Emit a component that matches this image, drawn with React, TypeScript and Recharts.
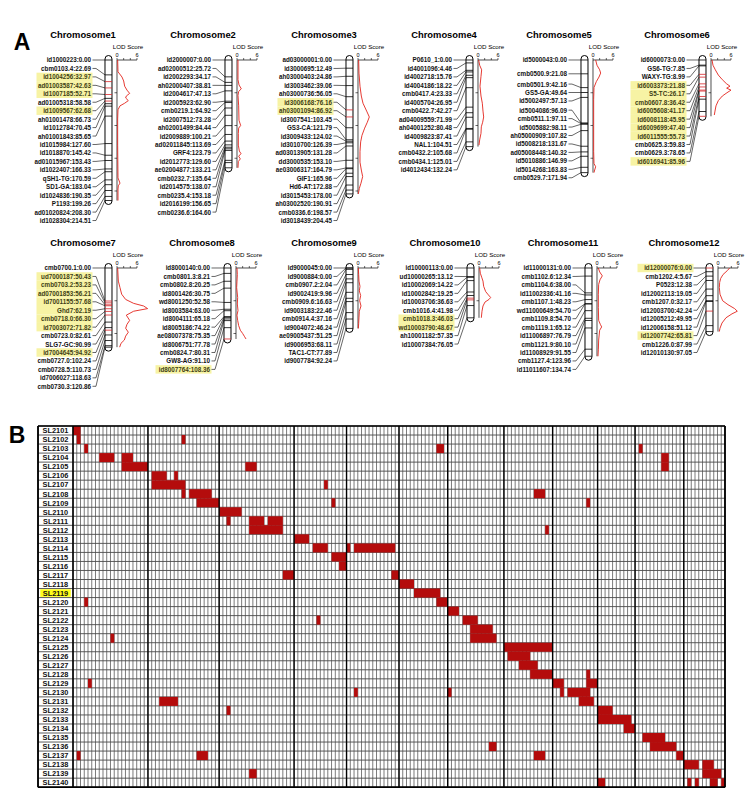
import React from 'react';
import {
  ScatterChart,
  Scatter,
  XAxis,
  YAxis,
  ReferenceLine,
  ReferenceArea,
  CartesianGrid,
} from 'recharts';

const FONT = '"Liberation Sans", Arial, Helvetica, sans-serif';
const MAP_RED = '#d8262a';
const LOD_RED = '#e3241c';
const CELL_RED = '#b40c0c';
const MARK_YELLOW = '#f7f3a4';
const LINE_YELLOW = '#ffff1a';

// ---------- Linkage maps: "marker:position(cM)" ----------
const chr1Markers = ['id1000223:0.00', 'cbm0103.4:22.69', 'id1004256:32.97', 'ad01003587:42.63', 'id1007185:52.71', 'ad01005318:58.58', 'id1009567:62.68', 'ah01001478:66.73', 'id1012784:70.45', 'ah01001843:85.65', 'id1015984:127.60', 'id1018870:145.42', 'ad01015967:153.43', 'id1022407:166.33', 'qSH1-TG:170.59', 'SD1-GA:183.04', 'id1024836:190.35', 'P1193:199.26', 'ad01020824:208.30', 'id1028304:214.51'];
const chr2Markers = ['id2000007:0.00', 'ad02000512:25.72', 'id2002293:34.17', 'ah02000407:38.81', 'id2004617:47.13', 'id2005923:62.90', 'cmb0219.1:64.92', 'id2007512:73.28', 'ah02001499:84.44', 'id2009889:100.21', 'ad02011845:113.69', 'GRF4:123.79', 'id2012773:129.60', 'ae02004877:133.21', 'cmb0232.7:135.64', 'id2014575:138.07', 'cmb0235.4:153.18', 'id2016199:156.65', 'cmb0236.6:164.60'];
const chr3Markers = ['ad03000001:0.00', 'id3000695:12.49', 'ah03000403:24.86', 'id3003462:39.06', 'ah03000736:56.05', 'id3006168:76.16', 'ah03001094:86.92', 'id3007541:103.45', 'GS3-CA:121.79', 'id3009433:124.02', 'id3010700:126.39', 'ad03013905:131.28', 'dd3000535:153.10', 'ae03006317:164.79', 'GIF1:165.96', 'Hd6-AT:172.88', 'id3015453:178.00', 'ah03002520:190.91', 'cmb0336.6:198.57', 'id3018439:204.45'];
const chr4Markers = ['P0610_1:0.00', 'id4001096:4.46', 'id4002718:15.76', 'id4004186:18.22', 'cmb0417.4:23.33', 'id4005704:26.95', 'cmb0422.7:42.27', 'ad04009559:71.99', 'ah04001252:80.48', 'id4009823:87.41', 'NAL1:104.51', 'cmb0432.2:105.68', 'cmb0434.1:125.01', 'id4012434:132.24'];
const chr5Markers = ['id5000043:0.00', 'cmb0500.9:21.08', 'cmb0501.9:42.16', 'GS5-GA:49.64', 'id5002497:57.13', 'id5004086:96.09', 'cmb0511.1:97.11', 'id5005882:98.11', 'ah05000909:107.82', 'id5008218:131.67', 'ad05008448:140.32', 'id5010886:146.99', 'id5014268:163.83', 'cmb0529.7:171.94'];
const chr6Markers = ['id6000073:0.00', 'GS6-TG:7.85', 'WAXY-TG:8.99', 'id6003373:21.88', 'S5-TC:26.17', 'cmb0607.8:36.42', 'id6005608:41.17', 'id6008118:45.95', 'id6009699:47.40', 'id6011555:55.73', 'cmb0625.3:59.83', 'cmb0629.3:78.65', 'id6016941:85.96'];
const chr7Markers = ['cmb0700.1:0.00', 'ud7000187:50.43', 'cmb0703.2:53.23', 'ad07001853:56.21', 'id7001155:57.68', 'Ghd7:62.19', 'cmb0718.0:66.30', 'id7003072:71.82', 'cmb0723.0:82.61', 'SLG7-GC:90.99', 'id7004645:94.92', 'cmb0727.0:102.24', 'cmb0728.5:110.73', 'id7006027:118.63', 'cmb0730.3:120.86'];
const chr8Markers = ['id8000140:0.00', 'cmb0801.3:8.21', 'cmb0802.8:20.25', 'id8001426:30.75', 'wd8001250:52.58', 'id8003584:63.00', 'id8004111:65.18', 'id8005186:74.22', 'ae08007378:75.35', 'id8006751:77.78', 'cmb0824.7:80.31', 'GW8-AG:91.10', 'id8007764:108.36'];
const chr9Markers = ['id9000045:0.00', 'id9000884:0.00', 'cmb0907.2:2.04', 'id9002419:9.96', 'cmb0909.6:16.63', 'id9003183:22.46', 'cmb0914.4:37.16', 'id9004072:46.24', 'ae09005437:51.25', 'id9006953:68.11', 'TAC1-CT:77.89', 'id9007784:92.24'];
const chr10Markers = ['id10000113:0.00', 'ud10000265:13.12', 'id10002069:14.22', 'id10002842:19.25', 'id10003706:36.63', 'cmb1016.4:41.98', 'cmb1018.3:46.03', 'wd10003790:48.67', 'ah10001182:57.35', 'id10007384:76.05'];
const chr11Markers = ['id11000131:0.00', 'cmb1102.6:12.34', 'cmb1104.6:38.00', 'id11002336:41.16', 'cmb1107.1:48.23', 'wd11000649:54.70', 'cmb1109.8:54.70', 'cmb1119.1:65.12', 'id11006897:76.79', 'cmb1121.9:80.10', 'id11008929:91.55', 'cmb1127.4:123.96', 'id11011607:134.74'];
const chr12Markers = ['id12000076:0.00', 'cmb1202.4:5.67', 'P0523:12.38', 'id12002113:19.05', 'cmb1207.0:32.17', 'id12003700:42.24', 'id12005212:49.95', 'id12006158:51.12', 'id12007742:65.81', 'cmb1226.0:87.99', 'id12010130:97.05'];

// Markers flanking QTL peaks
const chr1Flagged = ['id1004256', 'ad01003587', 'id1007185', 'id1009567'];
const chr3Flagged = ['id3006168', 'ah03001094'];
const chr6Flagged = ['id6003373', 'S5-TC', 'cmb0607.8', 'id6005608', 'id6008118', 'id6009699', 'id6011555', 'id6016941'];
const chr7Flagged = ['ud7000187', 'cmb0703.2', 'ad07001853', 'id7001155', 'Ghd7', 'cmb0718.0', 'id7003072', 'id7004645'];
const chr8Flagged = ['id8007764'];
const chr10Flagged = ['cmb1018.3', 'wd10003790'];
const chr12Flagged = ['id12000076', 'id12007742'];

// LOD profiles: scan position (cM) and LOD score
const chr1LodPos = [0, 18, 26, 32, 40, 46, 51, 55, 58, 62, 66, 70, 76, 90, 130, 180, 188, 192, 197, 214.5];
const chr1Lod = [0.2, 0.3, 1.5, 2.0, 2.3, 3.0, 3.8, 2.8, 2.6, 3.4, 2.3, 0.9, 0.3, 0.2, 0.2, 0.3, 0.9, 0.4, 0.3, 0.3];
const chr2LodPos = [0, 30, 38, 44, 48, 54, 70, 92, 100, 104, 112, 130, 139, 143, 147, 151, 155, 164.6];
const chr2Lod = [0.3, 0.3, 0.6, 1.3, 0.5, 0.3, 0.5, 0.6, 1.1, 0.5, 0.4, 0.4, 0.7, 1.2, 0.5, 1.0, 0.4, 0.3];
const chr3LodPos = [0, 20, 40, 55, 66, 78, 87, 95, 104, 115, 125, 140, 156, 168, 178, 188, 196, 204.45];
const chr3Lod = [0.2, 0.3, 0.6, 1.0, 1.5, 2.6, 3.4, 2.8, 2.0, 1.2, 0.8, 0.6, 0.6, 1.0, 1.4, 0.9, 0.4, 0.1];
const chr4LodPos = [0, 8, 15, 25, 40, 55, 66, 78, 87, 95, 102, 112, 122, 130];
const chr4Lod = [0.2, 0.5, 1.1, 0.9, 0.6, 0.9, 1.3, 1.5, 1.7, 1.4, 1.0, 0.9, 0.5, 0.3];
const chr5LodPos = [0, 8, 15, 20, 26, 33, 42, 60, 100, 140, 158, 163, 168, 171.94];
const chr5Lod = [0.8, 1.2, 2.0, 2.3, 1.8, 1.0, 0.3, 0.2, 0.2, 0.2, 0.3, 0.8, 0.5, 0.3];
const chr6LodPos = [0, 8, 15, 23, 30, 36, 40, 43, 46, 50, 55, 62, 70, 78, 84];
const chr6Lod = [0.3, 0.6, 1.3, 2.2, 3.4, 4.6, 5.7, 4.7, 6.0, 4.8, 3.4, 2.2, 1.5, 1.2, 1.0];
const chr7LodPos = [0, 20, 30, 40, 48, 54, 58, 62, 66, 72, 80, 86, 92, 98, 104, 110, 115, 120.86];
const chr7Lod = [0.2, 0.4, 0.9, 1.4, 2.6, 5.0, 8.0, 9.2, 5.0, 2.8, 3.8, 3.0, 2.6, 3.4, 2.6, 2.2, 1.2, 0.8];
const chr8LodPos = [0, 10, 20, 30, 45, 55, 65, 72, 80, 88, 95, 100, 105, 108.36];
const chr8Lod = [0.3, 0.4, 0.3, 0.2, 0.5, 0.4, 0.6, 0.3, 0.5, 0.8, 1.3, 2.0, 2.6, 3.0];
const chr9LodPos = [0, 10, 20, 28, 35, 42, 50, 58, 66, 75, 85, 92.24];
const chr9Lod = [0.1, 0.2, 0.3, 0.6, 0.4, 0.8, 0.5, 0.9, 0.4, 0.3, 0.2, 0.1];
const chr10LodPos = [0, 8, 14, 20, 28, 36, 41, 45, 48, 52, 58, 66, 76];
const chr10Lod = [0.2, 0.4, 0.8, 1.2, 1.4, 2.0, 2.8, 3.5, 3.0, 1.8, 1.2, 0.9, 0.7];
const chr11LodPos = [0, 6, 12, 18, 25, 40, 60, 80, 86, 90, 95, 110, 125, 134.74];
const chr11Lod = [0.4, 0.8, 1.6, 0.9, 0.5, 0.4, 0.4, 0.5, 1.0, 1.4, 0.8, 0.5, 0.4, 0.3];
const chr12LodPos = [0, 4, 10, 16, 22, 30, 40, 50, 56, 62, 66, 70, 76, 84, 92, 97];
const chr12Lod = [3.5, 2.8, 1.5, 0.8, 0.5, 0.4, 0.6, 1.4, 3.0, 5.0, 5.8, 4.2, 2.4, 1.2, 0.6, 0.4];

const lodTicks = [0, 2, 4, 6];
const lodTickLabels = ['0', '', '', '6'];

// ---------- Graphical genotypes of the CSSL lines ----------
const lineNames = ['SL2101', 'SL2102', 'SL2103', 'SL2104', 'SL2105', 'SL2106', 'SL2107', 'SL2108', 'SL2109', 'SL2110', 'SL2111', 'SL2112', 'SL2113', 'SL2114', 'SL2115', 'SL2116', 'SL2117', 'SL2118', 'SL2119', 'SL2120', 'SL2121', 'SL2122', 'SL2123', 'SL2124', 'SL2125', 'SL2126', 'SL2127', 'SL2128', 'SL2129', 'SL2130', 'SL2131', 'SL2132', 'SL2133', 'SL2134', 'SL2135', 'SL2136', 'SL2137', 'SL2138', 'SL2139', 'SL2140'];
const selectedLine = 'SL2119';
const chromosomeNames = ['1', '2', '3', '4', '5', '6', '7', '8', '9', '10', '11', '12'];

// Donor segments: [line, chromosome, first marker, last marker] (markers 0-based)
const donorSegments: [string, number, number, number][] = [
  ['SL2101', 1, 0, 1],
  ['SL2102', 1, 1, 1], ['SL2102', 2, 9, 9],
  ['SL2103', 1, 3, 3], ['SL2103', 6, 10, 11], ['SL2103', 11, 1, 1],
  ['SL2104', 1, 7, 10], ['SL2104', 1, 13, 15], ['SL2104', 11, 7, 8],
  ['SL2105', 1, 13, 19], ['SL2105', 3, 7, 9], ['SL2105', 11, 7, 8],
  ['SL2106', 2, 1, 4], ['SL2106', 2, 7, 7],
  ['SL2107', 2, 1, 9], ['SL2107', 4, 8, 8],
  ['SL2108', 2, 9, 9], ['SL2108', 2, 11, 16], ['SL2108', 8, 8, 10],
  ['SL2109', 2, 13, 18], ['SL2109', 4, 10, 10], ['SL2109', 9, 9, 9],
  ['SL2110', 3, 0, 5],
  ['SL2111', 3, 2, 2], ['SL2111', 3, 8, 11], ['SL2111', 3, 13, 16],
  ['SL2112', 3, 8, 16], ['SL2112', 8, 11, 11],
  ['SL2113', 4, 0, 3],
  ['SL2114', 4, 5, 8], ['SL2114', 5, 0, 0], ['SL2114', 5, 2, 12],
  ['SL2115', 4, 10, 13],
  ['SL2116', 4, 12, 13],
  ['SL2117', 3, 17, 19], ['SL2117', 5, 12, 13],
  ['SL2118', 6, 0, 3],
  ['SL2119', 6, 4, 10],
  ['SL2120', 1, 3, 3], ['SL2120', 6, 10, 12],
  ['SL2121', 7, 0, 2],
  ['SL2122', 4, 6, 6], ['SL2122', 7, 4, 7],
  ['SL2123', 7, 6, 11],
  ['SL2124', 1, 10, 10], ['SL2124', 7, 6, 12],
  ['SL2125', 8, 0, 12],
  ['SL2126', 8, 1, 6],
  ['SL2127', 8, 4, 8],
  ['SL2128', 8, 7, 12], ['SL2128', 9, 9, 9],
  ['SL2129', 1, 4, 4], ['SL2129', 9, 0, 2], ['SL2129', 9, 9, 11],
  ['SL2130', 5, 2, 2], ['SL2130', 7, 0, 0], ['SL2130', 9, 2, 2], ['SL2130', 9, 4, 9],
  ['SL2131', 2, 3, 7], ['SL2131', 9, 7, 10],
  ['SL2132', 3, 2, 2], ['SL2132', 10, 0, 3],
  ['SL2133', 10, 0, 8],
  ['SL2134', 10, 7, 9],
  ['SL2135', 11, 2, 7],
  ['SL2136', 7, 11, 12], ['SL2136', 11, 4, 10],
  ['SL2137', 1, 1, 1], ['SL2137', 2, 13, 15], ['SL2137', 8, 8, 10], ['SL2137', 11, 11, 12],
  ['SL2138', 12, 0, 3], ['SL2138', 12, 5, 7],
  ['SL2139', 3, 8, 9], ['SL2139', 12, 5, 9],
  ['SL2140', 10, 0, 1], ['SL2140', 12, 1, 1], ['SL2140', 12, 3, 3], ['SL2140', 12, 7, 8], ['SL2140', 12, 10, 10],
];

// ---------- Assembled map definitions ----------
const maps = [
  { markers: chr1Markers, flagged: chr1Flagged, lodPos: chr1LodPos, lod: chr1Lod },
  { markers: chr2Markers, flagged: [], lodPos: chr2LodPos, lod: chr2Lod },
  { markers: chr3Markers, flagged: chr3Flagged, lodPos: chr3LodPos, lod: chr3Lod },
  { markers: chr4Markers, flagged: [], lodPos: chr4LodPos, lod: chr4Lod },
  { markers: chr5Markers, flagged: [], lodPos: chr5LodPos, lod: chr5Lod },
  { markers: chr6Markers, flagged: chr6Flagged, lodPos: chr6LodPos, lod: chr6Lod },
  { markers: chr7Markers, flagged: chr7Flagged, lodPos: chr7LodPos, lod: chr7Lod },
  { markers: chr8Markers, flagged: chr8Flagged, lodPos: chr8LodPos, lod: chr8Lod },
  { markers: chr9Markers, flagged: [], lodPos: chr9LodPos, lod: chr9Lod },
  { markers: chr10Markers, flagged: chr10Flagged, lodPos: chr10LodPos, lod: chr10Lod },
  { markers: chr11Markers, flagged: [], lodPos: chr11LodPos, lod: chr11Lod },
  { markers: chr12Markers, flagged: chr12Flagged, lodPos: chr12LodPos, lod: chr12Lod },
];

// ---------- Layout ----------
const MAP_X = [117, 237, 358, 478, 593, 711, 117, 236, 358, 479, 597, 718];
const MAP_Y = [60, 60, 60, 60, 60, 60, 268, 268, 268, 268, 268, 268];
const PX_PER_CM = 0.655;
const PX_PER_LOD = 3.33;
const LOD_MAX = 10;
const LABEL_STEP = 8.45;
const AXIS_H = 16;
const TOP_PAD = 2;
const PANEL_LEFT = 100;
const PANEL_RIGHT = 8;
const CHROM_OFF = 5;
const CHROM_W = 7;
const LABEL_OFF = 14;
const FLAG_W = 56;

const TABLE_LEFT = 38;
const TABLE_RIGHT = 725;
const TABLE_TOP = 414;
const HEADER_H = 12;
const ROW_H = 9.03;
const LABEL_W = 35;

function parseMarker(text: string) {
  const i = text.lastIndexOf(':');
  return { label: text, name: text.slice(0, i), pos: parseFloat(text.slice(i + 1)) };
}

// Spread marker labels so they keep a minimum spacing, centring each crowded group on its markers.
function spreadLabels(ys: number[], step: number): number[] {
  type Group = { first: number; last: number; sum: number; top: number };
  const groups: Group[] = [];
  ys.forEach((y, i) => {
    groups.push({ first: i, last: i, sum: y, top: Math.max(0, y) });
    while (groups.length > 1) {
      const b = groups[groups.length - 1];
      const a = groups[groups.length - 2];
      const na = a.last - a.first + 1;
      if (b.top < a.top + na * step - 1e-6) {
        const n = b.last - a.first + 1;
        const sum = a.sum + b.sum;
        const merged = { first: a.first, last: b.last, sum, top: Math.max(0, sum / n - ((n - 1) * step) / 2) };
        groups.splice(groups.length - 2, 2, merged);
      } else break;
    }
  });
  const out: number[] = [];
  groups.forEach((g) => {
    for (let i = g.first; i <= g.last; i++) out.push(g.top + (i - g.first) * step);
  });
  return out;
}

const NoDot = () => <g />;

function MapPanel({ index }: { index: number }) {
  const def = maps[index];
  const x0 = MAP_X[index];
  const y0 = MAP_Y[index];
  const parsed = def.markers.map(parseMarker);
  const maxPos = parsed[parsed.length - 1].pos;
  const markerYs = parsed.map((m) => m.pos * PX_PER_CM);
  const labelYs = spreadLabels(markerYs, LABEL_STEP);
  const markerData = parsed.map((m, i) => ({
    ...m,
    lod: 0,
    flagged: def.flagged.includes(m.name),
    dy: labelYs[i] - markerYs[i],
  }));
  const curve = def.lodPos.map((p, i) => ({ pos: p, lod: def.lod[i] }));
  const bodyData = [{ pos: maxPos, lod: 0 }];

  const plotTop = TOP_PAD + AXIS_H;
  const plotW = LOD_MAX * PX_PER_LOD;
  const plotH = maxPos * PX_PER_CM;
  const width = PANEL_LEFT + plotW + PANEL_RIGHT;
  const height = plotTop + Math.max(plotH, labelYs[labelYs.length - 1]) + 12;
  const posTicks = [50, 100, 150, 200].filter((t) => t < maxPos);

  const renderBody = (p: any) => (
    <rect
      x={p.cx - CHROM_OFF - CHROM_W}
      y={plotTop - 4.5}
      width={CHROM_W}
      height={p.cy - plotTop + 8.5}
      rx={3.5}
      ry={3.5}
      fill="#fff"
      stroke="#000"
      strokeWidth={1}
    />
  );

  const renderMarker = (p: any) => {
    const { cx, cy, payload } = p;
    const chromL = cx - CHROM_OFF - CHROM_W;
    const chromR = cx - CHROM_OFF;
    const tx = chromL - LABEL_OFF;
    const ly = cy + payload.dy;
    return (
      <g>
        {payload.flagged && (
          <rect x={tx - FLAG_W + 1.5} y={ly - LABEL_STEP / 2} width={FLAG_W} height={LABEL_STEP} fill={MARK_YELLOW} />
        )}
        <polyline
          points={`${tx + 1.5},${ly} ${tx + 5},${ly} ${chromL},${cy}`}
          fill="none"
          stroke="#000"
          strokeWidth={0.6}
        />
        <line
          x1={chromL}
          x2={chromR}
          y1={cy}
          y2={cy}
          stroke={payload.flagged ? MAP_RED : '#000'}
          strokeWidth={0.8}
        />
        <text
          x={tx}
          y={ly}
          textAnchor="end"
          dominantBaseline="central"
          fontSize={6.3}
          fontWeight={700}
          fontFamily={FONT}
          fill={payload.flagged ? '#3d3d14' : '#111'}
        >
          {payload.label}
        </text>
      </g>
    );
  };

  return (
    <>
      <div
        style={{
          position: 'absolute',
          left: x0 - 34,
          top: y0 - 25,
          transform: 'translate(-50%, -50%)',
          fontFamily: FONT,
          fontWeight: 700,
          fontSize: 9.4,
          lineHeight: 1,
          whiteSpace: 'nowrap',
        }}
      >
        {`Chromosome${index + 1}`}
      </div>
      <div
        style={{
          position: 'absolute',
          left: x0 + 11,
          top: y0 - 13,
          transform: 'translate(-50%, -50%)',
          fontFamily: FONT,
          fontSize: 6.2,
          lineHeight: 1,
          whiteSpace: 'nowrap',
        }}
      >
        LOD Score
      </div>
      <div style={{ position: 'absolute', left: x0 - PANEL_LEFT, top: y0 - plotTop }}>
        <ScatterChart
          width={width}
          height={height}
          margin={{ top: TOP_PAD, right: PANEL_RIGHT, bottom: height - plotTop - plotH, left: PANEL_LEFT - 1 }}
        >
          <XAxis
            type="number"
            dataKey="lod"
            domain={[0, LOD_MAX]}
            orientation="top"
            ticks={lodTicks}
            interval={0}
            tickFormatter={(v: number) => lodTickLabels[lodTicks.indexOf(v)] ?? ''}
            axisLine={false}
            tickSize={2}
            tickMargin={1}
            height={AXIS_H}
            tick={{ fontSize: 5.5, fill: '#000', fontFamily: FONT }}
            tickLine={{ stroke: '#000', strokeWidth: 0.6 }}
          />
          <YAxis
            type="number"
            dataKey="pos"
            domain={[0, maxPos]}
            reversed
            ticks={posTicks}
            interval={0}
            tickFormatter={() => ''}
            width={1}
            tickSize={2.5}
            axisLine={{ stroke: '#000', strokeWidth: 0.7 }}
            tickLine={{ stroke: '#000', strokeWidth: 0.6 }}
          />
          <ReferenceLine
            segment={[{ x: 0, y: 0 }, { x: 6, y: 0 }]}
            stroke="#000"
            strokeWidth={0.7}
          />
          <Scatter data={bodyData} shape={renderBody} isAnimationActive={false} />
          <Scatter data={markerData} shape={renderMarker} isAnimationActive={false} />
          <Scatter
            data={curve}
            shape={NoDot}
            line={{ stroke: LOD_RED, strokeWidth: 0.9 }}
            isAnimationActive={false}
          />
        </ScatterChart>
      </div>
    </>
  );
}

function GenotypeTable() {
  const chromCols = maps.map((m) => m.markers.length);
  const chromStarts: number[] = [];
  chromCols.reduce((acc, n) => {
    chromStarts.push(acc);
    return acc + n;
  }, 0);
  const totalCols = chromCols.reduce((a, b) => a + b, 0);
  const plotW = TABLE_RIGHT - TABLE_LEFT;
  const colW = (plotW - LABEL_W) / totalCols;
  const labelCols = LABEL_W / colW;
  const xDomain: [number, number] = [-labelCols, totalCols];
  const colTicks = Array.from({ length: totalCols + 1 }, (_, i) => i);
  const midTicks = Array.from({ length: totalCols }, (_, i) => i + 0.5);
  const rowTicks = Array.from({ length: lineNames.length + 1 }, (_, i) => i);
  const bodyH = lineNames.length * ROW_H;
  const rowLabels = lineNames.map((name, i) => ({ col: -labelCols / 2, row: i + 0.5, name }));
  const boundaries = [...chromStarts.slice(1)];
  const selectedIdx = lineNames.indexOf(selectedLine);

  const renderRowLabel = (p: any) => (
    <text
      x={p.cx}
      y={p.cy + 0.3}
      textAnchor="middle"
      dominantBaseline="central"
      fontSize={7.4}
      fontWeight={700}
      fontFamily={FONT}
      fill="#111"
    >
      {p.payload.name}
    </text>
  );

  return (
    <>
      <div style={{ position: 'absolute', left: TABLE_LEFT - 1, top: TABLE_TOP - 1 }}>
        <ScatterChart width={plotW + 2} height={HEADER_H + 2} margin={{ top: 1, right: 1, bottom: 1, left: 1 }}>
          <XAxis type="number" dataKey="col" domain={xDomain} hide />
          <YAxis type="number" dataKey="row" domain={[0, 1]} hide />
          <ReferenceArea x1={-labelCols} x2={0} fill="#fff" fillOpacity={1} stroke="#000" strokeWidth={1.6} />
          {chromosomeNames.map((c, i) => (
            <ReferenceArea
              key={c}
              x1={chromStarts[i]}
              x2={chromStarts[i] + chromCols[i]}
              fill="#fff"
              fillOpacity={1}
              stroke="#000"
              strokeWidth={1.6}
              label={{ value: c, position: 'center', fill: '#000', fontSize: 9.5, fontWeight: 700, fontFamily: FONT }}
            />
          ))}
        </ScatterChart>
      </div>
      <div style={{ position: 'absolute', left: TABLE_LEFT - 1, top: TABLE_TOP + HEADER_H - 1 }}>
        <ScatterChart width={plotW + 2} height={bodyH + 2} margin={{ top: 1, right: 1, bottom: 1, left: 1 }}>
          <XAxis type="number" dataKey="col" domain={xDomain} ticks={colTicks} interval={0} hide />
          <XAxis xAxisId="mid" type="number" dataKey="col" domain={xDomain} ticks={midTicks} interval={0} hide />
          <YAxis type="number" dataKey="row" domain={[0, lineNames.length]} ticks={rowTicks} interval={0} reversed hide />
          <ReferenceArea
            x1={-labelCols + 0.6}
            x2={-0.6}
            y1={selectedIdx + 0.08}
            y2={selectedIdx + 0.92}
            fill={LINE_YELLOW}
            fillOpacity={1}
            strokeWidth={0}
          />
          {donorSegments.map(([line, chrom, first, last], i) => {
            const row = lineNames.indexOf(line);
            const start = chromStarts[chrom - 1];
            return (
              <ReferenceArea
                key={i}
                x1={start + first}
                x2={start + last + 1}
                y1={row}
                y2={row + 1}
                fill={CELL_RED}
                fillOpacity={1}
                strokeWidth={0}
              />
            );
          })}
          <CartesianGrid xAxisId="mid" horizontal={false} vertical stroke="#8c8c8c" strokeWidth={0.6} />
          <CartesianGrid horizontal={false} vertical stroke="#222" strokeWidth={0.6} />
          <CartesianGrid horizontal vertical={false} stroke="#4a4a4a" strokeWidth={0.9} />
          {boundaries.map((b) => (
            <ReferenceLine key={b} x={b} stroke="#000" strokeWidth={1.4} />
          ))}
          <ReferenceLine x={-labelCols} stroke="#000" strokeWidth={1.8} />
          <ReferenceLine x={0} stroke="#000" strokeWidth={1.6} />
          <ReferenceLine x={totalCols} stroke="#000" strokeWidth={1.8} />
          <ReferenceLine y={0} stroke="#000" strokeWidth={1.4} />
          <ReferenceLine y={lineNames.length} stroke="#000" strokeWidth={1.8} />
          <Scatter data={rowLabels} shape={renderRowLabel} isAnimationActive={false} />
        </ScatterChart>
      </div>
    </>
  );
}

const panelLetter = (x: number, y: number): React.CSSProperties => ({
  position: 'absolute',
  left: x,
  top: y,
  transform: 'translate(-50%, -50%)',
  fontFamily: FONT,
  fontWeight: 700,
  fontSize: 23,
  lineHeight: 1,
});

export default function App() {
  return (
    <div
      style={{
        position: 'absolute',
        left: 0,
        top: 0,
        width: 753,
        height: 808,
        background: '#fff',
        overflow: 'hidden',
        fontFamily: FONT,
      }}
    >
      <div style={panelLetter(22, 42)}>A</div>
      <div style={panelLetter(17, 435)}>B</div>
      {maps.map((_, i) => (
        <MapPanel key={i} index={i} />
      ))}
      <GenotypeTable />
    </div>
  );
}
